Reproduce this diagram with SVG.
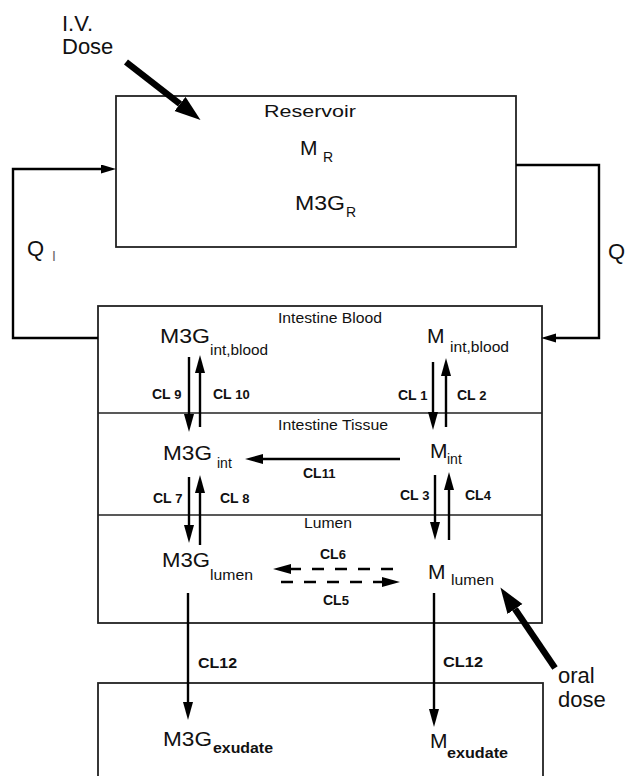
<svg xmlns="http://www.w3.org/2000/svg" width="627" height="776" viewBox="0 0 627 776">
<style>
text{font-family:"Liberation Sans",Arial,Helvetica,sans-serif;fill:#111}
.big{font-size:21px}
.sub{font-size:14px}
.lab{font-size:14px}
.cl{font-size:14px;font-weight:bold}
.cl tspan{font-size:13px}
.dose{font-size:22px}
.box{fill:#fff;stroke:#222;stroke-width:1.8}
.div{stroke:#222;stroke-width:1.6}
.ln{fill:none;stroke:#000;stroke-width:2.4}
.dash{fill:none;stroke:#000;stroke-width:2.6;stroke-dasharray:12 11}
.thick{fill:none;stroke:#000;stroke-width:6.5}
</style>
<defs>
<marker id="ah" markerUnits="userSpaceOnUse" markerWidth="20" markerHeight="12" refX="0" refY="5" orient="auto"><path d="M0,0 L18,5 L0,10 z" fill="#000"/></marker>
<marker id="ah2" markerUnits="userSpaceOnUse" markerWidth="17" markerHeight="10" refX="0" refY="4.5" orient="auto"><path d="M0,0 L15,4.5 L0,9 z" fill="#000"/></marker>
<marker id="big" markerUnits="userSpaceOnUse" markerWidth="28" markerHeight="20" refX="0" refY="9" orient="auto"><path d="M0,0 L26,9 L0,18 z" fill="#000"/></marker>
</defs>
<rect width="627" height="776" fill="#fff"/>

<g id="reservoir">
<rect class="box" x="116" y="96" width="400" height="151"/>
<text class="lab" x="264" y="117" font-size="17" textLength="92" lengthAdjust="spacingAndGlyphs" style="font-size:17px">Reservoir</text>
<text class="big" x="300" y="155">M</text><text class="sub" x="323" y="162">R</text>
<text class="big" x="295" y="210" textLength="50" lengthAdjust="spacingAndGlyphs">M3G</text><text class="sub" x="346" y="217">R</text>
</g>

<g id="intestine">
<rect class="box" x="98" y="306" width="444" height="317"/>
<line class="div" x1="98" y1="413" x2="542" y2="413"/>
<line class="div" x1="98" y1="515" x2="542" y2="515"/>
<text class="lab" x="278" y="323" textLength="104" lengthAdjust="spacingAndGlyphs">Intestine Blood</text>
<text class="lab" x="278" y="430" textLength="110" lengthAdjust="spacingAndGlyphs">Intestine Tissue</text>
<text class="lab" x="304" y="528" textLength="48" lengthAdjust="spacingAndGlyphs">Lumen</text>
</g>

<g id="m3g-int-blood">
<text class="big" x="160" y="343" textLength="50" lengthAdjust="spacingAndGlyphs">M3G</text>
<text class="sub" x="210" y="355" textLength="58" lengthAdjust="spacingAndGlyphs">int,blood</text>
</g>
<g id="m-int-blood">
<text class="big" x="427" y="343">M</text>
<text class="sub" x="450" y="352" textLength="59" lengthAdjust="spacingAndGlyphs">int,blood</text>
</g>
<g id="m3g-int">
<text class="big" x="163" y="460" textLength="49" lengthAdjust="spacingAndGlyphs">M3G</text>
<text class="sub" x="217" y="468">int</text>
</g>
<g id="m-int">
<text class="big" x="430" y="458">M</text>
<text class="sub" x="447" y="464">int</text>
</g>
<g id="m3g-lumen">
<text class="big" x="162" y="567" textLength="48" lengthAdjust="spacingAndGlyphs">M3G</text>
<text class="sub" x="210" y="580" textLength="43" lengthAdjust="spacingAndGlyphs">lumen</text>
</g>
<g id="m-lumen">
<text class="big" x="428" y="579">M</text>
<text class="sub" x="451" y="585" textLength="43" lengthAdjust="spacingAndGlyphs">lumen</text>
</g>

<g id="exudate">
<rect class="box" x="98" y="683" width="445" height="110"/>
<text class="big" x="163" y="746" textLength="49" lengthAdjust="spacingAndGlyphs">M3G</text>
<text class="sub" x="213" y="753" font-weight="bold" textLength="60" lengthAdjust="spacingAndGlyphs">exudate</text>
<text class="big" x="430" y="748">M</text>
<text class="sub" x="447" y="758" font-weight="bold" textLength="61" lengthAdjust="spacingAndGlyphs">exudate</text>
</g>

<g id="iv-dose">
<text class="dose" x="62" y="31">I.V.</text>
<text class="dose" x="62" y="54">Dose</text>
</g>
<g id="oral-dose">
<text class="dose" x="558" y="683">oral</text>
<text class="dose" x="558" y="707">dose</text>
</g>

<g id="connectors">
<path class="ln" d="M98,338 H13 V169 H101" marker-end="url(#ah2)"/>
<path class="ln" d="M516,165 H599 V338 H556" marker-end="url(#ah2)"/>
<text class="dose" x="27" y="256">Q</text><text class="sub" x="52" y="261" style="fill:#666">I</text>
<text class="dose" x="608" y="259">Q</text>

<line class="ln" x1="189" y1="357" x2="189" y2="414" marker-end="url(#ah)"/>
<line class="ln" x1="200" y1="427" x2="200" y2="373" marker-end="url(#ah)"/>
<line class="ln" x1="189" y1="477" x2="189" y2="525" marker-end="url(#ah)"/>
<line class="ln" x1="200" y1="545" x2="200" y2="493" marker-end="url(#ah)"/>
<line class="ln" x1="433" y1="362" x2="433" y2="412" marker-end="url(#ah)"/>
<line class="ln" x1="446" y1="427" x2="446" y2="376" marker-end="url(#ah)"/>
<line class="ln" x1="435" y1="475" x2="435" y2="522" marker-end="url(#ah)"/>
<line class="ln" x1="449" y1="540" x2="449" y2="490" marker-end="url(#ah)"/>
<line class="ln" x1="400" y1="459" x2="263" y2="459" marker-end="url(#ah)"/>
<line class="dash" x1="393" y1="569" x2="291" y2="569" marker-end="url(#ah)"/>
<line class="dash" x1="281" y1="582" x2="382" y2="582" marker-end="url(#ah)"/>
<line class="ln" x1="188" y1="593" x2="188" y2="702" marker-end="url(#ah)"/>
<line class="ln" x1="434" y1="593" x2="434" y2="709" marker-end="url(#ah)"/>
<line class="thick" x1="126" y1="62" x2="180" y2="104" marker-end="url(#big)"/>
<line class="thick" x1="555" y1="668" x2="515" y2="609" marker-end="url(#big)"/>

<text class="cl" x="152" y="399">CL <tspan>9</tspan></text>
<text class="cl" x="213" y="399">CL <tspan>10</tspan></text>
<text class="cl" x="398" y="400">CL <tspan>1</tspan></text>
<text class="cl" x="457" y="400">CL <tspan>2</tspan></text>
<text class="cl" x="303" y="478">CL<tspan>11</tspan></text>
<text class="cl" x="153" y="503">CL <tspan>7</tspan></text>
<text class="cl" x="220" y="503">CL <tspan>8</tspan></text>
<text class="cl" x="400" y="500">CL <tspan>3</tspan></text>
<text class="cl" x="465" y="500">CL<tspan>4</tspan></text>
<text class="cl" x="320" y="559">CL<tspan>6</tspan></text>
<text class="cl" x="323" y="605">CL<tspan>5</tspan></text>
<text class="cl" x="198" y="668" textLength="39" lengthAdjust="spacingAndGlyphs">CL12</text>
<text class="cl" x="443" y="667" textLength="40" lengthAdjust="spacingAndGlyphs">CL12</text>
</g>
</svg>
